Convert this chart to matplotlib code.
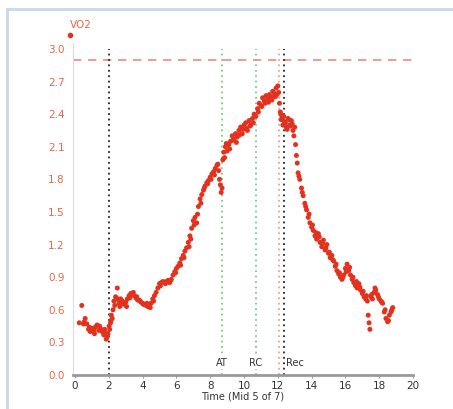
import matplotlib.pyplot as plt
from matplotlib.patches import Rectangle

# VO2 samples (time in min, VO2 in L/min)
time = [0.25, 0.4, 0.5, 0.6, 0.7, 0.8, 0.9, 1.0, 1.1, 1.2, 1.3, 1.4, 1.5, 1.6, 1.7, 1.8, 1.9, 1.95,
        2.05, 2.1, 2.15, 2.2, 2.25, 2.3, 2.4, 2.5, 2.55, 2.6,
        2.7, 2.8, 2.9, 3.0, 3.1, 3.2, 3.3, 3.4, 3.5, 3.6, 3.7, 3.8, 3.9, 4.0, 4.1, 4.2, 4.3, 4.4, 4.5, 4.6, 4.7, 4.8,
        4.9, 5.0, 5.1, 5.2, 5.3, 5.4, 5.5, 5.6, 5.7, 5.8, 5.9, 6.0,
        6.1, 6.2, 6.3, 6.4, 6.5, 6.6, 6.7, 6.8, 6.9, 7.0, 7.1, 7.2, 7.3, 7.4, 7.5,
        7.6, 7.7, 7.8, 7.9, 8.0, 8.1, 8.2, 8.3, 8.4, 8.5, 8.55, 8.6, 8.65, 8.7,
        8.75, 8.8, 8.9, 9.0, 9.1, 9.2, 9.3, 9.4, 9.5, 9.6, 9.7, 9.8, 9.9, 10.0, 10.1, 10.2, 10.3, 10.4, 10.5, 10.6, 10.7,
        10.8, 10.9, 11.0, 11.1, 11.2, 11.3, 11.4, 11.5, 11.6, 11.7, 11.8, 11.9, 12.0, 12.05,
        12.1, 12.15, 12.2, 12.25, 12.3, 12.4, 12.5, 12.6, 12.7, 12.8, 12.9, 13.0,
        13.05, 13.1, 13.15, 13.2, 13.3, 13.4, 13.5, 13.6, 13.7, 13.8, 13.9, 14.0, 14.1, 14.2, 14.3, 14.4, 14.5, 14.6,
        14.7, 14.8, 14.9, 15.0,
        15.1, 15.2, 15.3, 15.4, 15.5, 15.6, 15.7, 15.8, 15.9, 16.0, 16.1, 16.2, 16.3, 16.4, 16.5, 16.6, 16.7, 16.8,
        16.9, 17.0, 17.1, 17.2, 17.3, 17.35, 17.4, 17.45, 17.5, 17.6, 17.7, 17.8, 17.9, 18.0, 18.1, 18.2, 18.3,
        18.4, 18.5, 18.6, 18.7, 18.8]
vo2 = [0.48, 0.64, 0.47, 0.52, 0.47, 0.42, 0.40, 0.43, 0.41, 0.44, 0.46, 0.41, 0.43, 0.40, 0.37, 0.39, 0.35, 0.38,
       0.42, 0.48, 0.55, 0.52, 0.60, 0.68, 0.72, 0.80, 0.70, 0.66,
       0.70, 0.68, 0.65, 0.67, 0.70, 0.73, 0.75, 0.74, 0.73, 0.71, 0.69, 0.69, 0.67, 0.66, 0.65, 0.64, 0.63, 0.64,
       0.66, 0.70, 0.73, 0.76,
       0.80, 0.84, 0.85, 0.86, 0.85, 0.86, 0.87, 0.85, 0.88, 0.92, 0.95, 0.98,
       1.00, 1.03, 1.07, 1.10, 1.14, 1.17, 1.22, 1.28, 1.35, 1.42, 1.45, 1.40, 1.55, 1.62, 1.66,
       1.70, 1.74, 1.77, 1.79, 1.82, 1.85, 1.87, 1.90, 1.93, 1.88, 1.80, 1.75, 1.68, 1.72,
       1.98, 2.05, 2.10, 2.06, 2.12, 2.15, 2.20, 2.17, 2.22, 2.19, 2.25, 2.28, 2.22, 2.30, 2.32, 2.25, 2.34, 2.30,
       2.36, 2.40, 2.38,
       2.45, 2.50, 2.48, 2.55, 2.52, 2.57, 2.54, 2.58, 2.56, 2.61, 2.59, 2.64, 2.66, 2.60,
       2.50, 2.42, 2.35, 2.38, 2.30, 2.33, 2.28, 2.36, 2.30, 2.34, 2.25, 2.28,
       2.12, 2.02, 1.95, 1.86, 1.80, 1.72, 1.65, 1.58, 1.52, 1.45, 1.40, 1.36, 1.33, 1.28, 1.25, 1.30, 1.22, 1.18,
       1.24, 1.15, 1.20, 1.12,
       1.08, 1.10, 1.05, 1.00, 0.96, 0.93, 0.90, 0.88, 0.92, 0.98, 1.02, 0.96, 0.92, 0.88, 0.85, 0.82, 0.80, 0.84,
       0.78, 0.75, 0.72, 0.70, 0.68, 0.55, 0.48, 0.42, 0.72, 0.70, 0.76, 0.78, 0.74, 0.70, 0.68, 0.66, 0.58,
       0.52, 0.49, 0.55, 0.58, 0.62]

# in-between samples that thicken the band
time_extra = [0.55, 0.85, 1.15, 1.45, 1.75, 1.85, 2.02, 2.12, 2.35, 2.45, 2.65, 2.85, 3.05, 3.25, 3.45, 3.65, 3.85,
              4.05, 4.25, 4.45, 4.65, 5.05, 5.35, 5.65, 5.95, 6.25, 6.45, 6.75, 6.85, 7.05, 7.25, 7.45, 7.65, 7.85,
              8.05, 8.25, 8.45, 8.85, 8.95, 9.15, 9.35, 9.55, 9.75, 9.95, 10.15, 10.35, 10.55, 10.85, 11.05, 11.25,
              11.45, 11.65, 11.85, 11.95, 12.18, 12.35, 12.45, 12.55, 12.65, 12.75, 12.85, 12.95, 13.25, 13.45,
              13.65, 13.85, 14.05, 14.25, 14.45, 14.65, 14.85, 15.05, 15.25, 15.45, 15.65, 15.85, 16.05, 16.25,
              16.45, 16.65, 16.85, 17.05, 17.25, 17.55, 17.75, 17.95, 18.15, 18.35, 18.55, 18.75]
vo2_extra = [0.49, 0.44, 0.38, 0.45, 0.42, 0.33, 0.45, 0.50, 0.64, 0.70, 0.63, 0.66, 0.63, 0.71, 0.76, 0.72, 0.68,
             0.65, 0.66, 0.62, 0.68, 0.82, 0.84, 0.87, 0.94, 1.01, 1.08, 1.18, 1.25, 1.38, 1.48, 1.58, 1.72, 1.76,
             1.80, 1.84, 1.94, 2.00, 2.13, 2.08, 2.16, 2.14, 2.21, 2.26, 2.27, 2.29, 2.32, 2.42, 2.47, 2.50,
             2.51, 2.53, 2.56, 2.58, 2.40, 2.38, 2.32, 2.26, 2.35, 2.29, 2.31, 2.20, 1.83, 1.68,
             1.55, 1.48, 1.38, 1.31, 1.27, 1.21, 1.17, 1.13, 1.06, 1.02, 0.94, 0.90, 0.95, 0.99,
             0.90, 0.86, 0.81, 0.77, 0.73, 0.74, 0.80, 0.72, 0.67, 0.60, 0.50, 0.60]

# event markers: (time, colour, label)
markers = [(2.0, '#222222', ''), (8.68, '#8cbf8c', 'AT'), (10.71, '#8cbf8c', 'RC'),
           (12.09, '#f0a090', ''), (12.38, '#222222', 'Rec')]
vo2_max = 2.90

red = '#e2321e'
W, H = 453, 409

fig = plt.figure(figsize=(W / 100, H / 100), dpi=100)
fig.patch.set_facecolor('white')

# light frame around the panel
fig.add_artist(Rectangle((7 / W, -0.02), 1.0, (H - 9) / H + 0.02, transform=fig.transFigure,
                         fill=False, edgecolor='#c9d7e6', lw=2))

ax = fig.add_axes([73 / W, 34 / H, 340 / W, 331.5 / H])
ax.set_xlim(-0.12, 20)
ax.set_ylim(0, 3.05)

for side in ['top', 'right']:
    ax.spines[side].set_visible(False)
ax.spines['left'].set_color('#d8dde3')
ax.spines['left'].set_linewidth(0.8)
ax.spines['bottom'].set_color('#9a9a9a')
ax.spines['bottom'].set_linewidth(2)

ax.axhline(vo2_max, color='#f08a7a', lw=1.2, ls=(0, (5, 4)), zorder=1)
for x, c, lab in markers:
    ax.plot([x, x], [0, 3.0], color=c, lw=1.3, ls=(0, (1, 2)), zorder=1)
    if lab:
        ha = 'left' if lab == 'Rec' else 'center'
        xt = x + 0.12 if lab == 'Rec' else x
        ax.text(xt, 0.11, lab, fontsize=7, color='#333333', ha=ha, va='center',
                bbox=dict(facecolor='white', edgecolor='none', pad=0.5), zorder=2)

ax.scatter(time, vo2, s=13, color=red, edgecolor='none', zorder=3)
ax.scatter(time_extra, vo2_extra, s=13, color=red, edgecolor='none', zorder=3)

ax.set_xticks(range(0, 21, 2))
ax.set_yticks([0.0, 0.3, 0.6, 0.9, 1.2, 1.5, 1.8, 2.1, 2.4, 2.7, 3.0])
ax.set_yticklabels(['0.0', '0.3', '0.6', '0.9', '1.2', '1.5', '1.8', '2.1', '2.4', '2.7', '3.0'])
ax.tick_params(axis='x', length=2, color='#9a9a9a', labelsize=7.5, labelcolor='#333333', pad=2)
ax.tick_params(axis='y', length=0, labelsize=7.5, labelcolor='#e8684c', pad=6)
ax.set_xlabel('Time (Mid 5 of 7)', fontsize=7, color='#333333', labelpad=1)

# y-axis title with its series dot
ax.plot([-0.01], [1.025], 'o', ms=3, color=red, transform=ax.transAxes, clip_on=False)
fig.text(70 / W, 1 - 25 / H, 'VO2', fontsize=7.5, color='#e8684c', ha='left', va='center')

plt.savefig('out.png', dpi=100)
